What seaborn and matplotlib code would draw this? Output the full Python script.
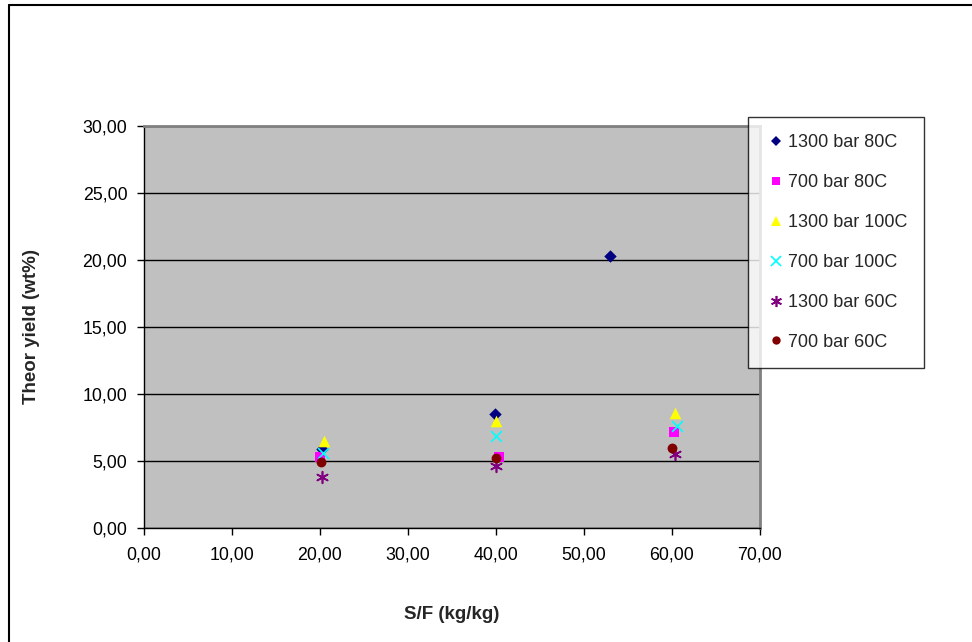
import matplotlib
matplotlib.use("Agg")
import matplotlib.pyplot as plt
import seaborn as sns
import pandas as pd
from matplotlib.lines import Line2D
from matplotlib.ticker import FuncFormatter

series_names = ["1300 bar 80C", "700 bar 80C", "1300 bar 100C",
                "700 bar 100C", "1300 bar 60C", "700 bar 60C"]
x_1300_80 = [20.2, 39.9, 53.0]
y_1300_80 = [5.9, 8.5, 20.3]
x_700_80 = [20.0, 40.3, 60.2]
y_700_80 = [5.3, 5.3, 7.2]
x_1300_100 = [20.4, 40.0, 60.3]
y_1300_100 = [6.5, 8.0, 8.6]
x_700_100 = [20.3, 40.0, 60.6]
y_700_100 = [5.6, 6.9, 7.6]
x_1300_60 = [20.2, 40.0, 60.3]
y_1300_60 = [3.8, 4.65, 5.5]
x_700_60 = [20.1, 40.0, 60.0]
y_700_60 = [4.95, 5.25, 6.0]

xs = [x_1300_80, x_700_80, x_1300_100, x_700_100, x_1300_60, x_700_60]
ys = [y_1300_80, y_700_80, y_1300_100, y_700_100, y_1300_60, y_700_60]

colors = ["#000080", "#FF00FF", "#FFFF00", "#00FFFF", "#800080", "#800000"]
markers = ["D", "s", "^", "x", (6, 2, 0), "o"]
sizes = [40, 45, 70, 60, 70, 50]

rows = []
for name, xv, yv in zip(series_names, xs, ys):
    for a, b in zip(xv, yv):
        rows.append({"S/F": a, "yield": b, "series": name})
df = pd.DataFrame(rows)

sns.set_theme(style="white")
plt.rcParams['font.family'] = ['Liberation Sans', 'DejaVu Sans']

fig = plt.figure(figsize=(9.72, 6.42), dpi=100)
ax = fig.add_axes([144/972, 1-528/642, (760-144)/972, (528-126)/642])
ax.set_facecolor("#C0C0C0")

for name, c, m, s in zip(series_names, colors, markers, sizes):
    sub = df[df["series"] == name]
    lw = 1.2 if m in ("x", (6, 2, 0)) else 0
    sns.scatterplot(data=sub, x="S/F", y="yield", ax=ax, color=c, marker=m,
                    s=s, linewidth=lw, edgecolor=c if lw == 0 else None, legend=False,
                    zorder=3)

ax.set_xlim(0, 70)
ax.set_ylim(0, 30)
ax.set_xticks([0, 10, 20, 30, 40, 50, 60, 70])
ax.set_yticks([0, 5, 10, 15, 20, 25, 30])
fmt = FuncFormatter(lambda v, p: f"{v:.2f}".replace(".", ","))
ax.xaxis.set_major_formatter(fmt)
ax.yaxis.set_major_formatter(fmt)
ax.yaxis.grid(True, color="black", linewidth=1)
ax.xaxis.grid(False)
ax.set_axisbelow(True)
ax.tick_params(axis="both", labelsize=12.8, colors="black", length=5, width=1,
               direction="out", bottom=True, left=True, pad=7)
ax.tick_params(axis="x", pad=8)
for sp in ["left", "bottom"]:
    ax.spines[sp].set_color("black")
    ax.spines[sp].set_linewidth(1)
for sp in ["top", "right"]:
    ax.spines[sp].set_color("#808080")
    ax.spines[sp].set_linewidth(2)
ax.set_xlabel("S/F (kg/kg)", fontsize=13.5, fontweight="bold", labelpad=31)
ax.set_ylabel("Theor yield (wt%)", fontsize=13.5, fontweight="bold", labelpad=31)

handles = [Line2D([], [], linestyle="none", marker=m, color=c, markerfacecolor=c,
                  markeredgecolor=c, markersize=ms, markeredgewidth=mew)
           for m, c, ms, mew in zip(markers, colors, [5, 6, 7, 7, 8, 6],
                                    [0, 0, 0, 1.2, 1.2, 0])]
leg = fig.legend(handles, series_names, loc="upper left",
                 bbox_to_anchor=(748/972, 1-117/642), bbox_transform=fig.transFigure,
                 frameon=True, fancybox=False, edgecolor="black", fontsize=13,
                 labelspacing=1.27, handletextpad=0.05, handlelength=1.2,
                 borderpad=0.95, borderaxespad=0)
leg.get_frame().set_linewidth(1)

fig.add_artist(Line2D([9/972, 9/972], [0, 1-5/642], transform=fig.transFigure,
                      color="black", linewidth=1.5))
fig.add_artist(Line2D([9/972, 1], [1-5/642, 1-5/642], transform=fig.transFigure,
                      color="black", linewidth=1.5))

fig.savefig("out.png", dpi=100)
